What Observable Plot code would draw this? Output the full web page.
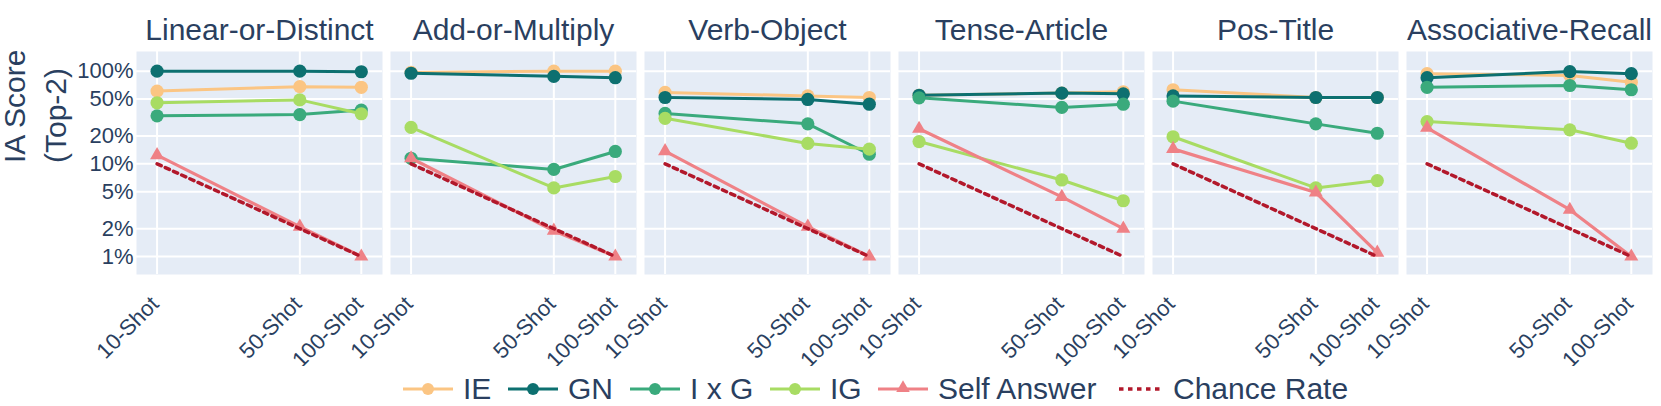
<!DOCTYPE html>
<html>
<head>
<meta charset="utf-8">
<script src="https://cdn.jsdelivr.net/npm/d3@7"></script>
<script src="https://cdn.jsdelivr.net/npm/@observablehq/plot@0.6"></script>
<style>
  html, body { margin: 0; padding: 0; background: white; }
  #chart { width: 1661px; }
  #legend { position: relative; height: 40px; font-family: "Liberation Sans", Arial, sans-serif; color: #2a3f5f; font-size: 30px; }
  #legend .item { position: absolute; top: 3px; height: 40px; display: flex; align-items: center; white-space: nowrap; }
  #legend svg { display: block; margin-right: 10px; }
</style>
</head>
<body>
<div id="chart"></div>
<div id="legend"></div>
<script>
// ---- data ----
const tasks = ["Linear-or-Distinct", "Add-or-Multiply", "Verb-Object", "Tense-Article", "Pos-Title", "Associative-Recall"];
const shots = [10, 50, 100];
const shotLabels = ["10-Shot", "50-Shot", "100-Shot"];
const yTicks = [1, 2, 5, 10, 20, 50, 100];
const yTickLabels = ["1%", "2%", "5%", "10%", "20%", "50%", "100%"];

// values in percent, one row per task, columns = shots
const ieValues   = [[61, 68, 67], [97, 100, 100], [59, 54, 52], [55, 58, 60], [63, 52, 52], [94, 90, 76]];
const gnValues   = [[100, 100, 98.5], [95, 88, 85], [52, 49.5, 44], [55, 58, 57], [54, 52, 52], [85, 99, 94]];
const ixgValues  = [[33, 34, 38], [11.5, 8.7, 13.6], [35, 27, 12.7], [51.6, 40.6, 44], [47.5, 27, 21.4], [67, 70, 63]];
const igValues   = [[45.6, 49, 34.7], [24.7, 5.5, 7.3], [31, 16.6, 14.4], [17.4, 6.7, 4.0], [19.6, 5.5, 6.6], [28.6, 23.3, 16.7]];
const selfValues = [[12.4, 2.1, 1.0], [11.5, 1.9, 1.0], [13.7, 2.1, 1.0], [23.9, 4.4, 2.0], [14.5, 4.9, 1.1], [24.5, 3.2, 1.0]];
const chanceValues = [10, 2, 1];

const seriesNames = ["IE", "GN", "I x G", "IG", "Self Answer", "Chance Rate"];
const seriesColors = ["#fbc583", "#0d7070", "#3aaa7c", "#a8dc63", "#ef8186", "#b2182b"];

// ---- build tidy table ----
function tidy(name, rows) {
  const out = [];
  tasks.forEach((t, i) => shots.forEach((s, j) => out.push({series: name, task: t, shot: s, value: rows[i][j]})));
  return out;
}
const circleSeries = [
  tidy("IE", ieValues),
  tidy("GN", gnValues),
  tidy("I x G", ixgValues),
  tidy("IG", igValues)
];
const selfData = tidy("Self Answer", selfValues);
const chanceData = tidy("Chance Rate", tasks.map(() => chanceValues));

const colorOf = Object.fromEntries(seriesNames.map((n, i) => [n, seriesColors[i]]));
const textColor = "#2a3f5f";

const marks = [
  Plot.frame({fill: "#e5ecf6", stroke: null}),
  Plot.gridX(shots, {stroke: "white", strokeOpacity: 1, strokeWidth: 2}),
  Plot.gridY(yTicks, {stroke: "white", strokeOpacity: 1, strokeWidth: 2}),
  Plot.axisFx({anchor: "top", label: null, tickSize: 0, tickPadding: 12, fontSize: 30}),
  // x tick labels (every facet)
  Plot.text(shots, {x: d => d, text: (d, i) => shotLabels[i], frameAnchor: "bottom", dx: 3, dy: 31,
    rotate: -45, textAnchor: "end", lineAnchor: "bottom", fontSize: 22, fill: textColor}),
  // y tick labels (first facet only)
  Plot.text(yTicks, {fx: () => tasks[0], y: d => d, text: (d, i) => yTickLabels[i], frameAnchor: "left", dx: -3,
    textAnchor: "end", lineAnchor: "middle", fontSize: 22, fill: textColor}),
  Plot.text(["IA Score\n(Top-2)"], {fx: () => tasks[0], text: d => d, frameAnchor: "left", dx: -104, rotate: -90,
    fontSize: 30, lineHeight: 1.37, fill: textColor})
];
circleSeries.forEach(data => {
  const c = colorOf[data[0].series];
  marks.push(Plot.line(data, {x: "shot", y: "value", fx: "task", stroke: c, strokeWidth: 3}));
  marks.push(Plot.dot(data, {x: "shot", y: "value", fx: "task", fill: c, r: 6.6, stroke: null}));
});
marks.push(Plot.line(selfData, {x: "shot", y: "value", fx: "task", stroke: colorOf["Self Answer"], strokeWidth: 3.2}));
marks.push(Plot.dot(selfData, {x: "shot", y: "value", fx: "task", fill: colorOf["Self Answer"], symbol: "triangle", r: 5.2, stroke: null}));
marks.push(Plot.line(chanceData, {x: "shot", y: "value", fx: "task", stroke: colorOf["Chance Rate"], strokeWidth: 3.5, strokeDasharray: "4.5,4.5"}));

const chart = Plot.plot({
  width: 1661,
  height: 366,
  marginLeft: 135,
  marginRight: 7,
  marginTop: 51,
  marginBottom: 92,
  style: {fontFamily: "'Liberation Sans', Arial, sans-serif", color: textColor, background: "white"},
  fx: {domain: tasks, paddingInner: 0.03, paddingOuter: 0, label: null},
  x: {type: "log", domain: [7.93, 127], axis: null},
  y: {type: "log", domain: [0.64, 163], axis: null},
  marks
});
document.getElementById("chart").appendChild(chart);

// ---- legend ----
const legend = d3.select("#legend");
const legendLeft = [403, 508, 630, 770, 878, 1117];
seriesNames.forEach((name, i) => {
  const item = legend.append("div").attr("class", "item").style("left", legendLeft[i] + "px");
  const w = i === 5 ? 46 : 50;
  const svg = item.append("svg").attr("width", w).attr("height", 20);
  const line = svg.append("line").attr("x1", 0).attr("x2", w).attr("y1", 10).attr("y2", 10)
    .attr("stroke", seriesColors[i]).attr("stroke-width", i === 5 ? 3.5 : 3);
  if (i === 5) { line.attr("stroke-dasharray", "4.5,4.5").attr("x1", 2); }
  if (i < 4) svg.append("circle").attr("cx", w / 2).attr("cy", 10).attr("r", 6).attr("fill", seriesColors[i]);
  if (i === 4) svg.append("path").attr("d", d3.symbol(d3.symbolTriangle, 80)()).attr("transform", `translate(${w/2},9)`).attr("fill", seriesColors[i]);
  item.append("span").text(name);
});
</script>
</body>
</html>
